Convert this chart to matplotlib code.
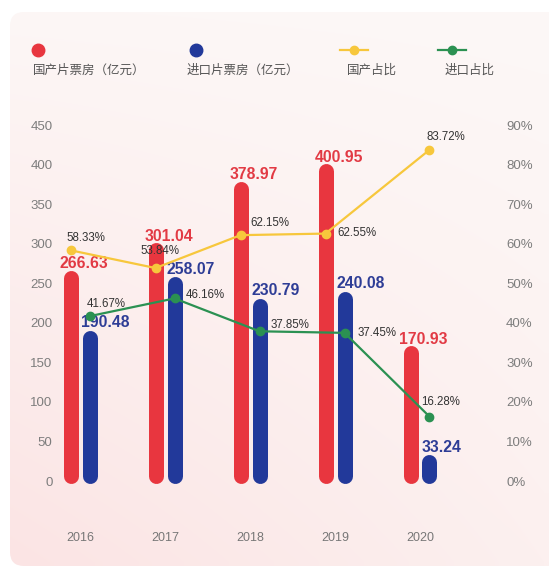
import numpy as np
import matplotlib
matplotlib.use("Agg")
import matplotlib.pyplot as plt
from matplotlib.patches import FancyBboxPatch
from matplotlib.lines import Line2D

plt.rcParams['font.family'] = ['Liberation Sans', 'Noto Sans CJK SC', 'DejaVu Sans']

# data
years = ['2016', '2017', '2018', '2019', '2020']
domestic = [266.63, 301.04, 378.97, 400.95, 170.93]
imported = [190.48, 258.07, 230.79, 240.08, 33.24]
domestic_share = [58.33, 53.84, 62.15, 62.55, 83.72]
imported_share = [41.67, 46.16, 37.85, 37.45, 16.28]
legend_labels = ['国产片票房（亿元）', '进口片票房（亿元）', '国产占比', '进口占比']

RED = '#e8363f'
BLUE = '#22399a'
YELLOW = '#f7c73c'
GREEN = '#2b9152'
RED_TXT = '#e23a44'
BLUE_TXT = '#2e3d96'

W, H = 549, 567
fig = plt.figure(figsize=(W / 100, H / 100), dpi=100)
fig.patch.set_facecolor('white')

# card background with soft gradient
bg = fig.add_axes([0, 0, 1, 1])
bg.set_xlim(0, W)
bg.set_ylim(H, 0)
bg.axis('off')
c_tl = np.array([253, 247, 246]) / 255
c_tr = np.array([253, 248, 247]) / 255
c_bl = np.array([251, 228, 228]) / 255
c_br = np.array([252, 240, 239]) / 255
gy, gx = np.mgrid[0:1:60j, 0:1:60j]
grad = (c_tl * ((1 - gx) * (1 - gy))[..., None] + c_tr * (gx * (1 - gy))[..., None]
        + c_bl * ((1 - gx) * gy)[..., None] + c_br * (gx * gy)[..., None])
card = FancyBboxPatch((10, 12), 580, 554, boxstyle='round,pad=0,rounding_size=14',
                      transform=bg.transData, facecolor='none', edgecolor='none')
bg.add_patch(card)
im = bg.imshow(grad, extent=(0, W, H, 0), interpolation='bilinear', aspect='auto')
im.set_clip_path(card)

# main axes
ax = fig.add_axes([58 / W, (H - 481) / H, (495 - 58) / W, (481 - 125) / H])
ax2 = ax.twinx()
for a in (ax, ax2):
    a.patch.set_visible(False)
    for s in a.spines.values():
        s.set_visible(False)
    a.tick_params(length=0, labelsize=9.5, labelcolor='#7d7d7d')

x = np.arange(len(years))
spacing_px = 85
ax.set_xlim((58 - 80) / spacing_px, (495 - 80) / spacing_px)
ax.set_ylim(0, 450)
ax2.set_ylim(0, 90)
ax.set_yticks(np.arange(0, 451, 50))
ax2.set_yticks(np.arange(0, 91, 10))
ax2.set_yticklabels([f'{v}%' for v in range(0, 91, 10)])
ax.tick_params(axis='y', pad=4)
ax2.tick_params(axis='y', pad=8)
ax.set_xticks(x)
ax.set_xticklabels(years)
ax.tick_params(axis='x', pad=37, labelsize=9, labelcolor='#777777')

# pixel scale for rounded bars
ppu = (481 - 125) / 450.0
bar_px = 15
half_u = (bar_px / 2) / ppu
off = 9.5 / spacing_px
lw = bar_px * 72 / 100

red_x = x - off
blue_x = x + off
for xs, vals, col in ((red_x, domestic, RED), (blue_x, imported, BLUE)):
    for xi, v in zip(xs, vals):
        ax.plot([xi, xi], [half_u - 2 / ppu, v - half_u], color=col, lw=lw,
                solid_capstyle='round', zorder=2, clip_on=False)

# share lines (2020 domestic point sits over the imported bar)
yellow_x = np.array([red_x[0], red_x[1], red_x[2], red_x[3], blue_x[4]])
green_x = blue_x
ax2.plot(yellow_x, domestic_share, color=YELLOW, lw=1.6, marker='o', ms=6, zorder=3)
ax2.plot(green_x, imported_share, color=GREEN, lw=1.6, marker='o', ms=6, zorder=3)

# value labels
for xi, v in zip(red_x, domestic):
    ax.annotate(f'{v:.2f}', (xi, v), xytext=(-11, 2), textcoords='offset pixels',
                ha='left', va='baseline', color=RED_TXT, fontsize=11.3,
                fontweight='bold', zorder=5)
for xi, v in zip(blue_x, imported):
    ax.annotate(f'{v:.2f}', (xi, v), xytext=(-8, 3), textcoords='offset pixels',
                ha='left', va='baseline', color=BLUE_TXT, fontsize=11.3,
                fontweight='bold', zorder=5)

y_offs = [(-4, 12), (-15, 17), (10, 12), (12, 1), (-3, 13)]
g_offs = [(-3, 12), (11, 3), (11, 6), (13, 0), (-8, 15)]
for xi, v, o in zip(yellow_x, domestic_share, y_offs):
    ax2.annotate(f'{v:.2f}%', (xi, v), xytext=o, textcoords='offset pixels',
                 ha='left', va='center', color='#333333', fontsize=8.3, zorder=5)
for xi, v, o in zip(green_x, imported_share, g_offs):
    ax2.annotate(f'{v:.2f}%', (xi, v), xytext=o, textcoords='offset pixels',
                 ha='left', va='center', color='#333333', fontsize=8.3, zorder=5)

# legend (marker above label)
def fx(px):
    return px / W

def fy(py):
    return 1 - py / H

leg_font = ['Noto Sans CJK SC', 'DejaVu Sans']
fig.add_artist(Line2D([fx(38)], [fy(50)], marker='o', ms=9, color=RED, lw=0))
fig.add_artist(Line2D([fx(196)], [fy(50)], marker='o', ms=9, color=BLUE, lw=0))
fig.add_artist(Line2D([fx(340), fx(368)], [fy(50), fy(50)], color=YELLOW, lw=1.6))
fig.add_artist(Line2D([fx(354)], [fy(50)], marker='o', ms=6, color=YELLOW, lw=0))
fig.add_artist(Line2D([fx(438), fx(466)], [fy(50), fy(50)], color=GREEN, lw=1.6))
fig.add_artist(Line2D([fx(452)], [fy(50)], marker='o', ms=6, color=GREEN, lw=0))
for lx, lab in zip([33, 187, 347, 445], legend_labels):
    fig.text(fx(lx), fy(70), lab, ha='left', va='center', fontsize=9,
             color='#555555', family=leg_font)

fig.savefig('out.png', dpi=100)
